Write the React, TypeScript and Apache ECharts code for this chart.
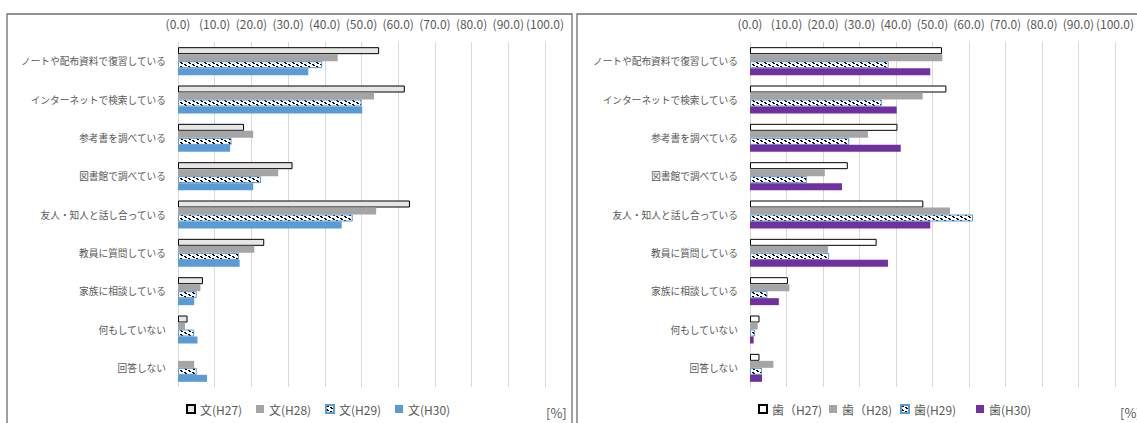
import React, { useEffect, useRef } from "react";
import * as echarts from "echarts";

const categories = [
  "ノートや配布資料で復習している",
  "インターネットで検索している",
  "参考書を調べている",
  "図書館で調べている",
  "友人・知人と話し合っている",
  "教員に質問している",
  "家族に相談している",
  "何もしていない",
  "回答しない",
];

const tickValues = [0, 10, 20, 30, 40, 50, 60, 70, 80, 90, 100];

const bunNames = ["文(H27)", "文(H28)", "文(H29)", "文(H30)"];
const shiNames = ["歯（H27)", "歯（H28)", "歯(H29)", "歯(H30)"];

const bunH27 = [54.8, 61.8, 18.0, 31.2, 63.2, 23.5, 6.8, 2.6, null];
const bunH28 = [43.5, 53.4, 20.5, 27.3, 54.0, 20.8, 6.1, 1.9, 4.4];
const bunH29 = [39.3, 50.0, 14.6, 22.6, 47.6, 16.6, 5.1, 4.4, 5.1];
const bunH30 = [35.5, 50.2, 14.2, 20.5, 44.6, 16.8, 4.4, 5.3, 7.9];

const shiH27 = [52.6, 53.8, 40.4, 26.8, 47.5, 34.7, 10.4, 2.6, 2.6];
const shiH28 = [52.7, 47.3, 32.3, 20.5, 54.8, 21.4, 10.8, 2.1, 6.4];
const shiH29 = [38.0, 36.1, 27.2, 15.6, 61.1, 21.7, 4.8, 1.4, 3.3];
const shiH30 = [49.4, 40.2, 41.3, 25.2, 49.4, 37.8, 7.9, 1.0, 3.3];

const FONT = "'Noto Sans CJK JP', 'Noto Sans', sans-serif";
const TEXT = "#595959";

function makePattern(): HTMLCanvasElement {
  const c = document.createElement("canvas");
  c.width = 8;
  c.height = 4;
  const ctx = c.getContext("2d")!;
  ctx.fillStyle = "#ffffff";
  ctx.fillRect(0, 0, 8, 4);
  ctx.fillStyle = "#000000";
  const pts = [
    [0, 0], [1, 0], [1, 1], [2, 1],
    [4, 2], [5, 2], [5, 3], [6, 3],
  ];
  pts.forEach(([x, y]) => ctx.fillRect(x, y, 1, 1));
  return c;
}

export default function App() {
  const ref = useRef<HTMLDivElement>(null);

  useEffect(() => {
    if (!ref.current) return;
    const chart = echarts.init(ref.current, undefined, { renderer: "svg" });
    const pattern = makePattern();
    const patternFill: any = { image: pattern, repeat: "repeat" };

    const xAxisBase = (gridIndex: number) => ({
      type: "value",
      gridIndex,
      position: "top",
      min: 0,
      max: 100,
      interval: 10,
      axisLine: { show: false },
      axisTick: { show: false },
      splitLine: { show: true, lineStyle: { color: "#d9d9d9", width: 1 } },
      axisLabel: {
        color: TEXT,
        fontSize: 12,
        fontFamily: FONT,
        margin: 13,
        formatter: (v: number) => (tickValues.includes(v) ? `(${v.toFixed(1)})` : ""),
      },
    });

    const yAxisBase = (gridIndex: number) => ({
      type: "category",
      gridIndex,
      inverse: true,
      data: categories,
      axisLine: { show: false },
      axisTick: { show: false },
      axisLabel: { color: TEXT, fontSize: 9.7, fontFamily: FONT, margin: 12 },
    });

    const bar = (name: string, data: any[], idx: number, itemStyle: any) => ({
      type: "bar",
      name,
      data,
      xAxisIndex: idx,
      yAxisIndex: idx,
      barGap: "0%",
      barCategoryGap: "27%",
      itemStyle,
      emphasis: { disabled: true },
    });

    const legend = (name: string, left: number) => ({
      data: [{ name, icon: "rect" }],
      left,
      top: 403,
      itemWidth: 8,
      itemHeight: 8,
      itemGap: 4,
      padding: 0,
      selectedMode: false,
      textStyle: { color: TEXT, fontSize: 12, fontFamily: FONT },
    });

    const option: any = {
      animation: false,
      grid: [
        { left: 178, width: 367, top: 42, bottom: 36 },
        { left: 750, width: 370, top: 42, bottom: 36 },
      ],
      xAxis: [xAxisBase(0), xAxisBase(1)],
      yAxis: [yAxisBase(0), yAxisBase(1)],
      legend: [
        legend(bunNames[0], 186),
        legend(bunNames[1], 256),
        legend(bunNames[2], 325),
        legend(bunNames[3], 395),
        legend(shiNames[0], 758),
        legend(shiNames[1], 829),
        legend(shiNames[2], 900),
        legend(shiNames[3], 976),
      ],
      series: [
        bar(bunNames[0], bunH27, 0, { color: "#e7e6e6", borderColor: "#000000", borderWidth: 1 }),
        bar(bunNames[1], bunH28, 0, { color: "#a5a5a5" }),
        bar(bunNames[2], bunH29, 0, { color: patternFill, borderColor: "#5b9bd5", borderWidth: 1 }),
        bar(bunNames[3], bunH30, 0, { color: "#5b9bd5" }),
        bar(shiNames[0], shiH27, 1, { color: "#ffffff", borderColor: "#000000", borderWidth: 1 }),
        bar(shiNames[1], shiH28, 1, { color: "#a5a5a5" }),
        bar(shiNames[2], shiH29, 1, { color: patternFill, borderColor: "#5b9bd5", borderWidth: 1 }),
        bar(shiNames[3], shiH30, 1, { color: "#7030a0" }),
      ],
      graphic: [
        {
          type: "rect",
          shape: { x: 7, y: 14, width: 565, height: 430 },
          style: { fill: "none", stroke: "#6f6f6f", lineWidth: 1.3 },
          silent: true,
        },
        {
          type: "rect",
          shape: { x: 577, y: 14, width: 600, height: 430 },
          style: { fill: "none", stroke: "#6f6f6f", lineWidth: 1.3 },
          silent: true,
        },
        {
          type: "text",
          left: 546,
          top: 406,
          style: { text: "[%]", fill: TEXT, fontSize: 13, fontFamily: FONT },
          silent: true,
        },
        {
          type: "text",
          left: 1120,
          top: 406,
          style: { text: "[%]", fill: TEXT, fontSize: 13, fontFamily: FONT },
          silent: true,
        },
      ],
    };

    chart.setOption(option);
    return () => chart.dispose();
  }, []);

  return (
    <div
      ref={ref}
      style={{ position: "absolute", left: 0, top: 0, width: 1137, height: 423, background: "#ffffff" }}
    />
  );
}
